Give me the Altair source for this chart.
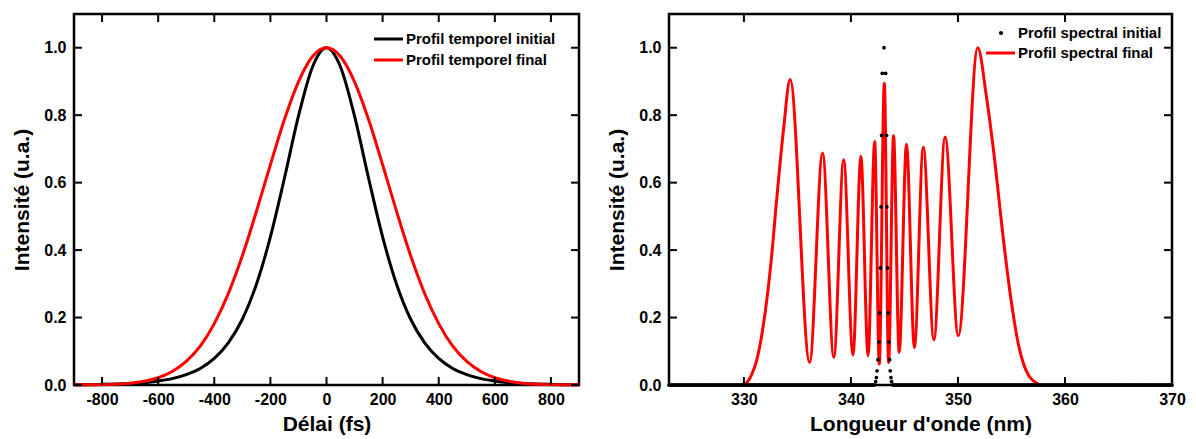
import altair as alt
import pandas as pd

# ---------------- data ----------------
delay_fs = [-900, -850, -800, -750, -700, -650, -600, -550, -500, -450, -400, -350,
            -300, -250, -200, -150, -100, -50, 0, 50, 100, 150, 200, 250, 300, 350,
            400, 450, 500, 550, 600, 650, 700, 750, 800, 850, 900]
temporal_initial = [0.001, 0.001, 0.002, 0.003, 0.0045, 0.007, 0.012, 0.019, 0.031,
                    0.049, 0.079, 0.125, 0.195, 0.298, 0.439, 0.613, 0.797, 0.943, 1.0,
                    0.943, 0.797, 0.613, 0.439, 0.298, 0.195, 0.125, 0.079, 0.049, 0.031,
                    0.019, 0.012, 0.007, 0.0045, 0.003, 0.002, 0.001, 0.001]
temporal_final = [0.0002, 0.0005, 0.0011, 0.0025, 0.0054, 0.0111, 0.0215, 0.040, 0.070,
                  0.115, 0.182, 0.271, 0.383, 0.514, 0.653, 0.787, 0.899, 0.974, 1.0,
                  0.974, 0.899, 0.787, 0.653, 0.514, 0.383, 0.271, 0.182, 0.115, 0.070,
                  0.040, 0.0215, 0.0111, 0.0054, 0.0025, 0.0011, 0.0005, 0.0002]

spec_final_nm = [329.9, 330.3, 330.68, 331.14, 331.76, 332.53, 333.09, 333.70, 334.32,
                 336.14, 337.35, 338.40, 339.32, 340.19, 340.93, 341.60, 342.22, 342.65,
                 343.12, 343.52, 343.98, 344.51, 345.19, 345.93, 346.76, 347.75, 348.80,
                 350.03, 351.85, 352.66, 353.46, 354.14, 354.91, 355.68, 356.61, 357.69]
spec_final_val = [0.0, 0.008, 0.028, 0.067, 0.166, 0.363, 0.56, 0.757, 0.906,
                  0.067, 0.688, 0.082, 0.668, 0.089, 0.678, 0.087, 0.722, 0.062,
                  0.895, 0.067, 0.739, 0.097, 0.714, 0.111, 0.705, 0.134, 0.735,
                  0.146, 1.0, 0.855, 0.659, 0.461, 0.264, 0.116, 0.028, 0.0]

spec_init_nm = [343.09, 342.93, 343.24, 342.87, 343.33, 342.81, 343.36, 342.75, 343.42,
                342.69, 343.48, 342.62, 343.55, 342.53, 343.61, 342.44, 343.67, 342.38,
                343.74, 342.31, 343.80]
spec_init_val = [1.0, 0.924, 0.924, 0.740, 0.740, 0.528, 0.528, 0.347, 0.347, 0.214,
                 0.214, 0.128, 0.128, 0.075, 0.075, 0.042, 0.042, 0.022, 0.022, 0.010,
                 0.010]
# flat part of the initial spectrum: samples read as 0 along the whole window
baseline_nm = [round(323 + 0.1 * i, 1) for i in range(471)]
baseline_nm = [v for v in baseline_nm if v < 342.25 or v > 343.85]
baseline_val = [0.0] * len(baseline_nm)

x_ticks_left = [-800, -600, -400, -200, 0, 200, 400, 600, 800]
x_ticks_right = [330, 340, 350, 360, 370]
y_ticks = [0.0, 0.2, 0.4, 0.6, 0.8, 1.0]

legend_left = ["Profil temporel initial", "Profil temporel final"]
legend_right = ["Profil spectral initial", "Profil spectral final"]
x_title_left = "Délai (fs)"
x_title_right = "Longueur d'onde (nm)"
y_title = "Intensité (u.a.)"

# ---------------- styling ----------------
FONT = "Liberation Sans"
H = 371
W_LEFT, W_RIGHT = 505, 503
TICK = 8
RED = "#ff0000"
YMAX = 1.1


def axes(xdom, xvals, xtitle):
    xs = alt.Scale(domain=xdom, nice=False, zero=False)
    ys = alt.Scale(domain=[0, YMAX], nice=False, zero=False)
    xa = alt.Axis(title=xtitle, values=xvals, labelExpr="toString(datum.value)",
                  ticks=False, tickSize=0,
                  domain=False, grid=False, labelFlush=False, labelOverlap=False,
                  labelPadding=6, titlePadding=6, labelFontSize=16, titleFontSize=21)
    ya = alt.Axis(title=y_title, values=y_ticks, format=".1f", ticks=False, tickSize=0,
                  domain=False, grid=False, labelFlush=False, labelOverlap=False,
                  labelPadding=8, titlePadding=10, minExtent=32, maxExtent=32,
                  labelFontSize=16, titleFontSize=21)
    return xs, ys, xa, ya


def tick_layers(xdom, xs, ys, xa, ya, xvals, width):
    """Inward tick marks on the four sides of the frame (length TICK px)."""
    dx = TICK / width * (xdom[1] - xdom[0])
    dy = TICK / H * YMAX
    xdf = pd.DataFrame({"v": xvals})
    ydf = pd.DataFrame({"v": y_ticks})
    st = dict(color="black", strokeWidth=2)
    bottom = alt.Chart(xdf).transform_calculate(a="0", b=repr(dy)).mark_rule(**st).encode(
        x=alt.X("v:Q", scale=xs, axis=xa), y=alt.Y("a:Q", scale=ys, axis=ya), y2="b:Q")
    top = alt.Chart(xdf).transform_calculate(a=repr(YMAX), b=repr(YMAX - dy)).mark_rule(**st).encode(
        x=alt.X("v:Q", scale=xs, axis=xa), y=alt.Y("a:Q", scale=ys, axis=ya), y2="b:Q")
    left = alt.Chart(ydf).transform_calculate(
        a=repr(float(xdom[0])), b=repr(xdom[0] + dx)).mark_rule(**st).encode(
        y=alt.Y("v:Q", scale=ys, axis=ya), x=alt.X("a:Q", scale=xs, axis=xa), x2="b:Q")
    right = alt.Chart(ydf).transform_calculate(
        a=repr(xdom[1] - dx), b=repr(float(xdom[1]))).mark_rule(**st).encode(
        y=alt.Y("v:Q", scale=ys, axis=ya), x=alt.X("a:Q", scale=xs, axis=xa), x2="b:Q")
    return [bottom, top, left, right]


def legend_text(label, x, y):
    return alt.Chart(pd.DataFrame({"label": [label]})).mark_text(
        align="left", baseline="middle", font=FONT, fontSize=15, fontWeight="bold",
        color="black").encode(x=alt.value(x), y=alt.value(y), text="label:N")


def legend_line(label, color, x1, x2, y):
    return alt.Chart(pd.DataFrame({"label": [label]})).mark_rule(
        color=color, strokeWidth=3).encode(x=alt.value(x1), x2=alt.value(x2), y=alt.value(y))


# ---------------- left panel ----------------
XDOM_L = [-900, 900]
xs, ys, xa, ya = axes(XDOM_L, x_ticks_left, x_title_left)
tdf = pd.DataFrame({"t": delay_fs, "init": temporal_initial, "final": temporal_final})
l_init = alt.Chart(tdf).mark_line(color="black", strokeWidth=3, interpolate="monotone").encode(
    x=alt.X("t:Q", scale=xs, axis=xa), y=alt.Y("init:Q", scale=ys, axis=ya))
l_final = alt.Chart(tdf).mark_line(color=RED, strokeWidth=3, interpolate="monotone").encode(
    x=alt.X("t:Q", scale=xs, axis=xa), y=alt.Y("final:Q", scale=ys, axis=ya))
left_panel = alt.layer(
    l_init, l_final,
    *tick_layers(XDOM_L, xs, ys, xa, ya, x_ticks_left, W_LEFT),
    legend_line(legend_left[0], "black", 300, 329, 25),
    legend_text(legend_left[0], 332, 25),
    legend_line(legend_left[1], RED, 300, 329, 46),
    legend_text(legend_left[1], 332, 46),
).properties(width=W_LEFT, height=H)

# ---------------- right panel ----------------
XDOM_R = [323, 370]
xs2, ys2, xa2, ya2 = axes(XDOM_R, x_ticks_right, x_title_right)
fdf = pd.DataFrame({"nm": spec_final_nm, "val": spec_final_val})
idf = pd.DataFrame({"nm": spec_init_nm + baseline_nm, "val": spec_init_val + baseline_val})
s_final = alt.Chart(fdf).mark_line(color=RED, strokeWidth=3, interpolate="monotone").encode(
    x=alt.X("nm:Q", scale=xs2, axis=xa2), y=alt.Y("val:Q", scale=ys2, axis=ya2))
s_init = alt.Chart(idf).mark_circle(color="black", size=14, opacity=1).encode(
    x=alt.X("nm:Q", scale=xs2, axis=xa2), y=alt.Y("val:Q", scale=ys2, axis=ya2))
dot_leg = alt.Chart(pd.DataFrame({"label": [legend_right[0]]})).mark_circle(
    color="black", size=18, opacity=1).encode(x=alt.value(332), y=alt.value(19))
right_panel = alt.layer(
    s_final, s_init,
    *tick_layers(XDOM_R, xs2, ys2, xa2, ya2, x_ticks_right, W_RIGHT),
    dot_leg,
    legend_text(legend_right[0], 349, 19),
    legend_line(legend_right[1], RED, 317, 346, 39),
    legend_text(legend_right[1], 349, 39),
).properties(width=W_RIGHT, height=H)

chart = alt.hconcat(left_panel, right_panel, spacing=17).properties(
    padding={"left": 1, "top": 3, "right": 0, "bottom": 0}
).configure_view(
    stroke="black", strokeWidth=2.5
).configure_axis(
    labelFont=FONT, titleFont=FONT, labelFontWeight="bold", titleFontWeight="bold",
    labelColor="black", titleColor="black"
)

chart.save("out.html", embed_options={"renderer": "svg", "actions": False})
